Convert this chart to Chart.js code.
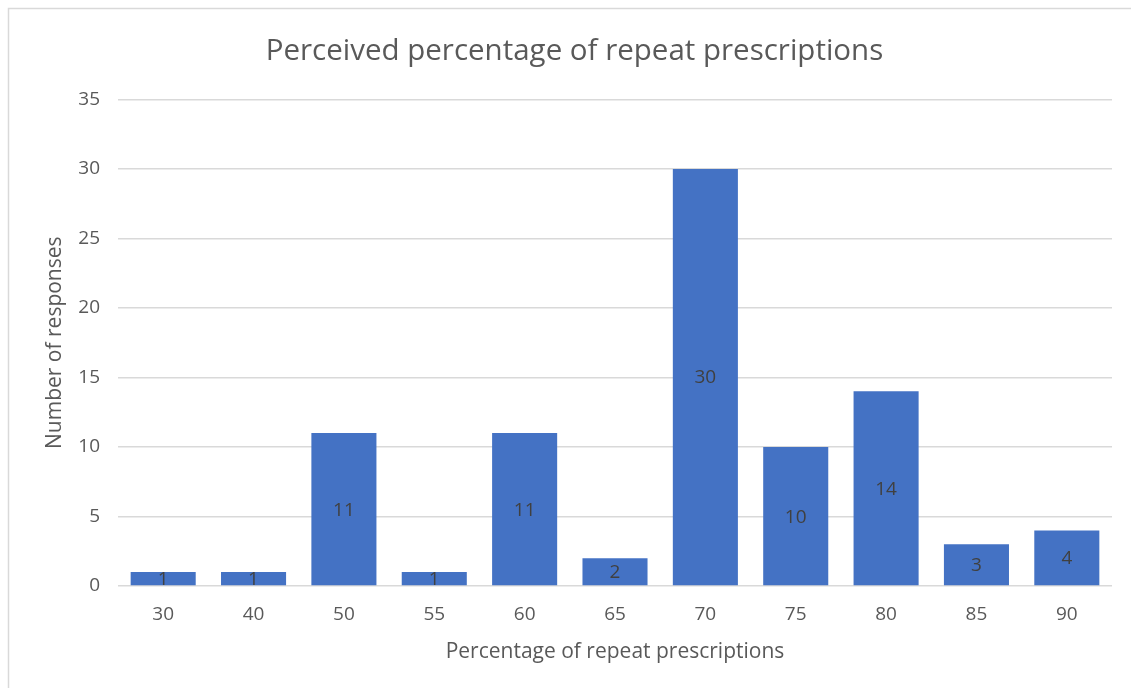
<!DOCTYPE html>
<html>
<head>
<meta charset="utf-8">
<script src="https://cdn.jsdelivr.net/npm/chart.js@4/dist/chart.umd.min.js"></script>
<style>
  html, body { margin: 0; padding: 0; background: #ffffff; }
  #wrap { width: 1131px; height: 688px; position: relative; }
</style>
</head>
<body>
<div id="wrap"><canvas id="c" width="1131" height="688"></canvas></div>
<script>
// Survey responses: perceived share of repeat prescriptions
const categories = ['30', '40', '50', '55', '60', '65', '70', '75', '80', '85', '90'];
const responses = [1, 1, 11, 1, 11, 2, 30, 10, 14, 3, 4];
const yTicks = [0, 5, 10, 15, 20, 25, 30, 35];

const FONT = "'Open Sans', 'DejaVu Sans', sans-serif";
const TEXT = '#595959';

// Light frame around the chart
const framePlugin = {
  id: 'frame',
  beforeDraw(chart) {
    const ctx = chart.ctx;
    ctx.save();
    ctx.fillStyle = '#ffffff';
    ctx.fillRect(0, 0, chart.width, chart.height);
    ctx.strokeStyle = '#d9d9d9';
    ctx.lineWidth = 1.5;
    ctx.strokeRect(8.5, 8.5, chart.width + 20, chart.height + 20);
    ctx.restore();
  }
};

// Value labels centred inside each bar
const valueLabels = {
  id: 'valueLabels',
  afterDatasetsDraw(chart) {
    const ctx = chart.ctx;
    const meta = chart.getDatasetMeta(0);
    const data = chart.data.datasets[0].data;
    ctx.save();
    ctx.font = '19px ' + FONT;
    ctx.fillStyle = '#404040';
    ctx.textAlign = 'center';
    ctx.textBaseline = 'middle';
    meta.data.forEach((bar, i) => {
      const y = (bar.y + bar.base) / 2 + 1;
      ctx.fillText(String(data[i]), bar.x, y);
    });
    ctx.restore();
  }
};

new Chart(document.getElementById('c'), {
  type: 'bar',
  data: {
    labels: categories,
    datasets: [{
      data: responses,
      backgroundColor: '#4472c4',
      borderWidth: 0,
      barPercentage: 0.72,
      categoryPercentage: 1.0
    }]
  },
  options: {
    responsive: false,
    animation: false,
    layout: { padding: { left: 37, right: 19, top: 0, bottom: 0 } },
    plugins: {
      legend: { display: false },
      tooltip: { enabled: false },
      title: {
        display: true,
        text: 'Perceived percentage of repeat prescriptions',
        color: TEXT,
        font: { family: FONT, size: 29.5, weight: 'normal' },
        padding: { top: 34, bottom: 30 }
      }
    },
    scales: {
      x: {
        grid: { display: false, drawTicks: false },
        border: { display: false },
        ticks: { color: TEXT, font: { family: FONT, size: 19 }, padding: 17 },
        title: {
          display: true,
          text: 'Percentage of repeat prescriptions',
          color: TEXT,
          font: { family: FONT, size: 21 },
          padding: { top: 0, bottom: 23 }
        },
        afterFit(scale) { scale.height = 102; }
      },
      y: {
        min: 0,
        max: 35,
        afterBuildTicks(scale) { scale.ticks = yTicks.map(v => ({ value: v })); },
        grid: { color: '#d9d9d9', lineWidth: 1.5, drawTicks: false },
        border: { display: false },
        ticks: { color: TEXT, font: { family: FONT, size: 19 }, padding: 18 },
        title: {
          display: true,
          text: 'Number of responses',
          color: TEXT,
          font: { family: FONT, size: 21 },
          padding: { top: 5, bottom: 0 }
        },
        afterFit(scale) { scale.width = 81; }
      }
    }
  },
  plugins: [framePlugin, valueLabels]
});
</script>
</body>
</html>
